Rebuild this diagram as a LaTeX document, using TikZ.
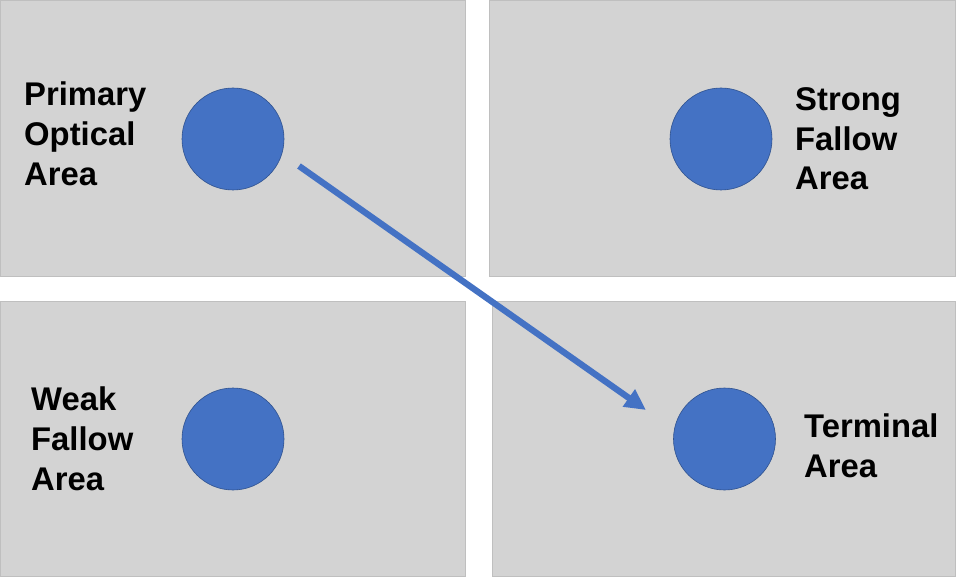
\documentclass[tikz,border=0pt]{standalone}
\usepackage{fontspec}
\setmainfont{Liberation Sans}
\usetikzlibrary{arrows.meta}
\definecolor{panelgray}{HTML}{D3D3D3}
\definecolor{panelline}{HTML}{BFBFBF}
\definecolor{dotblue}{HTML}{4472C4}
\definecolor{dotline}{HTML}{2F528F}
\tikzset{
  panel/.style={fill=panelgray, draw=panelline, line width=0.8pt},
  dot/.style={circle, fill=dotblue, draw=dotline, line width=0.6pt, minimum size=102pt, inner sep=0pt},
  label/.style={align=left, anchor=base west, inner sep=0pt, font=\bfseries\fontsize{32.8}{39.8}\selectfont},
  flow/.style={draw=dotblue, line width=6.3pt, -{Triangle[length=21pt,width=20pt]}}
}
\begin{document}
\begin{tikzpicture}[x=1pt,y=-1pt]
\useasboundingbox (0,0) rectangle (956,577);
\fill[white] (0,0) rectangle (956,577);
\draw[panel] (0.5,0.5) rectangle (465,276.5);
\draw[panel] (489,0.5) rectangle (955.5,276.5);
\draw[panel] (0.5,301) rectangle (465,576.5);
\draw[panel] (492,301) rectangle (955.5,576.5);
\node[dot] (po) at (233,139) {};
\node[dot] (sf) at (721,139) {};
\node[dot] (wf) at (233,439) {};
\node[dot] (te) at (724.5,439) {};
\node[label] (tpo) at (24,185.5) {Primary\\Optical\\Area};
\node[label] (tsf) at (795,190) {Strong\\Fallow\\Area};
\node[label] (twf) at (31,490) {Weak\\Fallow\\Area};
\node[label] (tte) at (804,477) {Terminal\\Area};
\coordinate (s) at (299,166);
\coordinate (t) at (646,410);
\draw[flow] (s) -- (t);
\end{tikzpicture}
\end{document}
